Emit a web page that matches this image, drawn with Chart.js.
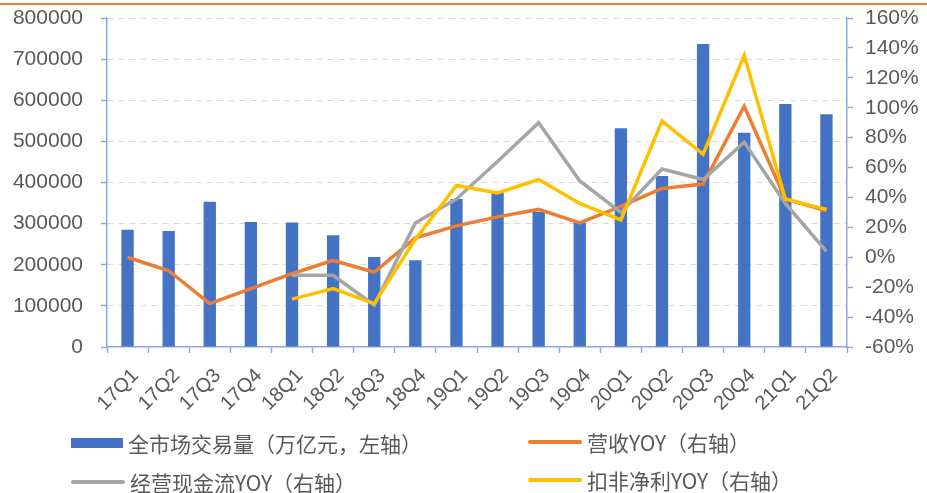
<!DOCTYPE html>
<html>
<head>
<meta charset="utf-8">
<script src="https://cdn.jsdelivr.net/npm/chart.js@4/dist/chart.umd.min.js"></script>
<style>
  html, body { margin: 0; padding: 0; background: #fff; }
  #wrap { position: relative; width: 927px; height: 493px; overflow: hidden; }
  #topline { position: absolute; left: 0; top: 3px; width: 927px; height: 2px; background: #ED7D31; }
  canvas { position: absolute; left: 0; top: 0; }
  .lg { position: absolute; font-family: "Noto Sans CJK SC", "Liberation Sans", sans-serif; font-size: 21px; color: #595959; white-space: nowrap; line-height: 24px; }
  .sw { position: absolute; }
</style>
</head>
<body>
<div id="wrap">
  <canvas id="c" width="927" height="493"></canvas>
  <div id="topline"></div>
  <div id="legend"></div>
</div>
<script>
const categories = ["17Q1","17Q2","17Q3","17Q4","18Q1","18Q2","18Q3","18Q4","19Q1","19Q2","19Q3","19Q4","20Q1","20Q2","20Q3","20Q4","21Q1","21Q2"];
const volume = [285000,282000,353000,304000,303000,272000,219000,211000,360000,375000,328000,303000,532000,416000,737000,521000,591000,566000];
const revenueYoY = [0,-9,-31,-21,-11,-2,-10,13,21,27,32,23,34,46,49,101,39,31];
const cashFlowYoY = [null,null,null,null,-12,-12,-32,23,39,64,90,51,30,59,52,77,36,4];
const profitYoY = [null,null,null,null,-28,-21,-31,12,48,43,52,36,25,91,69,135,39,32];
const leftTicks = [0,100000,200000,300000,400000,500000,600000,700000,800000];
const rightTicks = [-60,-40,-20,0,20,40,60,80,100,120,140,160];

const seriesNames = ["全市场交易量（万亿元，左轴）","营收YOY（右轴）","经营现金流YOY（右轴）","扣非净利YOY（右轴）"];
const colors = ["#4472C4","#ED7D31","#A5A5A5","#FFC000"];

const axisBlue = "#8EA9DB";
const textGray = "#595959";
const tickFont = { family: "'Liberation Sans', Arial, sans-serif", size: 21 };

new Chart(document.getElementById("c"), {
  data: {
    labels: categories,
    datasets: [
      { type: "bar", label: seriesNames[0], data: volume, backgroundColor: colors[0], yAxisID: "y", order: 10, barPercentage: 0.3, categoryPercentage: 1 },
      { type: "line", label: seriesNames[1], data: revenueYoY, borderColor: colors[1], backgroundColor: colors[1], borderWidth: 3.5, pointRadius: 0, tension: 0, yAxisID: "y1", order: 3 },
      { type: "line", label: seriesNames[2], data: cashFlowYoY, borderColor: colors[2], backgroundColor: colors[2], borderWidth: 3.5, pointRadius: 0, tension: 0, yAxisID: "y1", order: 2 },
      { type: "line", label: seriesNames[3], data: profitYoY, borderColor: colors[3], backgroundColor: colors[3], borderWidth: 3.5, pointRadius: 0, tension: 0, yAxisID: "y1", order: 1 }
    ]
  },
  options: {
    responsive: false,
    animation: false,
    layout: { padding: { top: 18, bottom: 0, left: 0, right: 0 } },
    plugins: { legend: { display: false }, tooltip: { enabled: false } },
    scales: {
      x: {
        offset: true,
        grid: { display: true, drawOnChartArea: false, offset: true, tickLength: 6, tickColor: axisBlue, tickWidth: 1.5 },
        border: { display: true, color: axisBlue, width: 1.5 },
        ticks: { color: textGray, font: { family: "'Liberation Sans', Arial, sans-serif", size: 20 }, minRotation: 45, maxRotation: 45, autoSkip: false, padding: 11, labelOffset: 8 },
        afterFit: (s) => { s.height = 146; s.paddingLeft = 0; s.paddingRight = 0; }
      },
      y: {
        position: "left",
        min: 0, max: 800000,
        afterBuildTicks: (s) => { s.ticks = leftTicks.map(v => ({ value: v })); },
        grid: { display: true, drawOnChartArea: true, color: (ctx) => (ctx.tick && ctx.tick.value === 0 ? "rgba(0,0,0,0)" : "#D9D9D9"), tickColor: axisBlue, tickLength: 6, tickWidth: 1.5, lineWidth: 1 },
        border: { display: true, color: axisBlue, width: 1.5, dash: [6, 5] },
        ticks: { color: textGray, font: tickFont, padding: 18, callback: (v) => String(v) },
        afterFit: (s) => { s.width = 107; s.paddingTop = 0; s.paddingBottom = 0; }
      },
      y1: {
        position: "right",
        min: -60, max: 160,
        afterBuildTicks: (s) => { s.ticks = rightTicks.map(v => ({ value: v })); },
        grid: { display: true, drawOnChartArea: false, tickColor: axisBlue, tickLength: 6, tickWidth: 1.5 },
        border: { display: true, color: axisBlue, width: 1.5 },
        ticks: { color: textGray, font: tickFont, padding: 12, callback: (v) => v + "%" },
        afterFit: (s) => { s.width = 80; s.paddingTop = 0; s.paddingBottom = 0; }
      }
    }
  }
});

// HTML legend (two columns, two rows)
const legendItems = [
  { i: 0, x: 71, y: 443, bar: true },
  { i: 1, x: 528, y: 442, bar: false },
  { i: 2, x: 71, y: 482, bar: false },
  { i: 3, x: 528, y: 480, bar: false }
];
const lg = document.getElementById("legend");
legendItems.forEach(it => {
  const sw = document.createElement("div");
  sw.className = "sw";
  if (it.bar) {
    sw.style.cssText = `left:${it.x}px;top:${it.y - 5}px;width:52px;height:10px;background:${colors[it.i]};`;
  } else {
    sw.style.cssText = `left:${it.x}px;top:${it.y - 2}px;width:54px;height:4px;border-radius:2px;background:${colors[it.i]};`;
  }
  lg.appendChild(sw);
  const t = document.createElement("div");
  t.className = "lg";
  t.textContent = seriesNames[it.i];
  t.style.left = (it.x + (it.bar ? 57 : 59)) + "px";
  t.style.top = (it.y - 12) + "px";
  lg.appendChild(t);
});
</script>
</body>
</html>
